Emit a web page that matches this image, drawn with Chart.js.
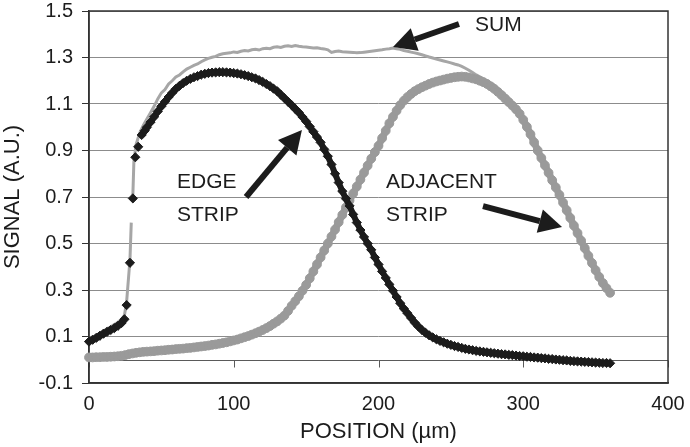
<!DOCTYPE html>
<html>
<head>
<meta charset="utf-8">
<script src="https://cdn.jsdelivr.net/npm/chart.js@4.4.0/dist/chart.umd.min.js"></script>
<style>
  html, body { margin: 0; padding: 0; background: #fff; }
</style>
</head>
<body>
<canvas id="signalChart" width="690" height="447"></canvas>
<script>
/* =====================
   データ: 位置 (µm) と信号 (A.U.)
===================== */
// common 2.5 µm grid (adjacent strip)
const positions = [
  0, 2.5, 5, 7.5, 10, 12.5, 15, 17.5, 20, 22.5,
  25, 27.5, 30, 32.5, 35, 37.5, 40, 42.5, 45, 47.5,
  50, 52.5, 55, 57.5, 60, 62.5, 65, 67.5, 70, 72.5,
  75, 77.5, 80, 82.5, 85, 87.5, 90, 92.5, 95, 97.5,
  100, 102.5, 105, 107.5, 110, 112.5, 115, 117.5, 120, 122.5,
  125, 127.5, 130, 132.5, 135, 137.5, 140, 142.5, 145, 147.5,
  150, 152.5, 155, 157.5, 160, 162.5, 165, 167.5, 170, 172.5,
  175, 177.5, 180, 182.5, 185, 187.5, 190, 192.5, 195, 197.5,
  200, 202.5, 205, 207.5, 210, 212.5, 215, 217.5, 220, 222.5,
  225, 227.5, 230, 232.5, 235, 237.5, 240, 242.5, 245, 247.5,
  250, 252.5, 255, 257.5, 260, 262.5, 265, 267.5, 270, 272.5,
  275, 277.5, 280, 282.5, 285, 287.5, 290, 292.5, 295, 297.5,
  300, 302.5, 305, 307.5, 310, 312.5, 315, 317.5, 320, 322.5,
  325, 327.5, 330, 332.5, 335, 337.5, 340, 342.5, 345, 347.5,
  350, 352.5, 355, 357.5, 360
];

const adjacentSignal = [
  0.010, 0.010, 0.011, 0.011, 0.012, 0.012, 0.013, 0.014, 0.015, 0.017,
  0.020, 0.024, 0.027, 0.030, 0.032, 0.034, 0.035, 0.036, 0.037, 0.039,
  0.040, 0.041, 0.043, 0.044, 0.046, 0.047, 0.048, 0.050, 0.051, 0.053,
  0.055, 0.057, 0.059, 0.061, 0.064, 0.066, 0.069, 0.072, 0.075, 0.079,
  0.083, 0.087, 0.092, 0.097, 0.102, 0.108, 0.114, 0.121, 0.128, 0.136,
  0.145, 0.155, 0.165, 0.177, 0.190, 0.210, 0.232, 0.252, 0.273, 0.297,
  0.322, 0.350, 0.380, 0.410, 0.440, 0.470, 0.500, 0.530, 0.560, 0.592,
  0.623, 0.655, 0.685, 0.715, 0.745, 0.775, 0.805, 0.835, 0.865, 0.893,
  0.920, 0.953, 0.985, 1.017, 1.045, 1.071, 1.095, 1.114, 1.130, 1.143,
  1.155, 1.164, 1.172, 1.179, 1.186, 1.192, 1.197, 1.201, 1.205, 1.209,
  1.212, 1.215, 1.217, 1.218, 1.217, 1.214, 1.210, 1.206, 1.200, 1.194,
  1.186, 1.176, 1.165, 1.152, 1.138, 1.123, 1.108, 1.093, 1.077, 1.058,
  1.032, 1.002, 0.970, 0.935, 0.900, 0.868, 0.836, 0.804, 0.772, 0.741,
  0.709, 0.676, 0.643, 0.610, 0.577, 0.545, 0.512, 0.480, 0.447, 0.416,
  0.385, 0.356, 0.330, 0.308, 0.288
];

// edge strip: same grid, but sparse points on the steep rise near 25-38 µm
const edgePos = [
  0, 2.5, 5, 7.5, 10, 12.5, 15, 17.5, 20, 22.5,
  24.5, 26, 28.3, 30.3, 32, 34, 36.4, 38.5,
  40, 42.5, 45, 47.5,
  50, 52.5, 55, 57.5, 60, 62.5, 65, 67.5, 70, 72.5,
  75, 77.5, 80, 82.5, 85, 87.5, 90, 92.5, 95, 97.5,
  100, 102.5, 105, 107.5, 110, 112.5, 115, 117.5, 120, 122.5,
  125, 127.5, 130, 132.5, 135, 137.5, 140, 142.5, 145, 147.5,
  150, 152.5, 155, 157.5, 160, 162.5, 165, 167.5, 170, 172.5,
  175, 177.5, 180, 182.5, 185, 187.5, 190, 192.5, 195, 197.5,
  200, 202.5, 205, 207.5, 210, 212.5, 215, 217.5, 220, 222.5,
  225, 227.5, 230, 232.5, 235, 237.5, 240, 242.5, 245, 247.5,
  250, 252.5, 255, 257.5, 260, 262.5, 265, 267.5, 270, 272.5,
  275, 277.5, 280, 282.5, 285, 287.5, 290, 292.5, 295, 297.5,
  300, 302.5, 305, 307.5, 310, 312.5, 315, 317.5, 320, 322.5,
  325, 327.5, 330, 332.5, 335, 337.5, 340, 342.5, 345, 347.5,
  350, 352.5, 355, 357.5, 360
];

const edgeSignal = [
  0.078, 0.086, 0.094, 0.103, 0.112, 0.120, 0.128, 0.136, 0.146, 0.158,
  0.174, 0.235, 0.417, 0.694, 0.871, 0.916, 0.967, 0.985,
  1.000, 1.022, 1.045, 1.068,
  1.090, 1.110, 1.130, 1.148, 1.165, 1.178, 1.190, 1.200, 1.208, 1.215,
  1.220, 1.226, 1.230, 1.233, 1.235, 1.236, 1.237, 1.237, 1.236, 1.235,
  1.233, 1.231, 1.228, 1.224, 1.220, 1.215, 1.210, 1.203, 1.195, 1.186,
  1.177, 1.166, 1.155, 1.140, 1.125, 1.110, 1.095, 1.079, 1.063, 1.044,
  1.025, 1.003, 0.981, 0.958, 0.935, 0.905, 0.875, 0.840, 0.800, 0.762,
  0.725, 0.693, 0.662, 0.625, 0.590, 0.558, 0.528, 0.500, 0.473, 0.440,
  0.410, 0.380, 0.352, 0.324, 0.297, 0.270, 0.243, 0.220, 0.200, 0.180,
  0.160, 0.143, 0.128, 0.116, 0.105, 0.096, 0.088, 0.081, 0.075, 0.069,
  0.064, 0.059, 0.055, 0.051, 0.047, 0.044, 0.041, 0.038, 0.036, 0.034,
  0.032, 0.030, 0.028, 0.026, 0.024, 0.023, 0.021, 0.020, 0.018, 0.016,
  0.015, 0.013, 0.012, 0.010, 0.009, 0.007, 0.006, 0.004, 0.003, 0.001,
  0.000, -0.002, -0.003, -0.005, -0.006, -0.007, -0.008, -0.009, -0.010, -0.011,
  -0.012, -0.013, -0.014, -0.014, -0.015
];

// sum: thin line, one gap on the steep rise
const sumPos = [
  0, 5, 10, 15, 20, 22.5, 24.5, 26, 28.3, 29.2, 29.6, 30.3, 31, 32.5, 35, 37.5,
  40, 42.5, 45, 47.5,
  50, 52.5, 55, 57.5, 60, 62.5, 65, 67.5, 70, 72.5,
  75, 77.5, 80, 82.5, 85, 87.5, 90, 92.5, 95, 97.5,
  100, 102.5, 105, 107.5, 110, 112.5, 115, 117.5, 120, 122.5,
  125, 127.5, 130, 132.5, 135, 137.5, 140, 142.5, 145, 147.5,
  150, 152.5, 155, 157.5, 160, 162.5, 165, 167.5, 170, 172.5,
  175, 177.5, 180, 182.5, 185, 187.5, 190, 192.5, 195, 197.5,
  200, 202.5, 205, 207.5, 210, 212.5, 215, 217.5, 220, 222.5,
  225, 227.5, 230, 232.5, 235, 237.5, 240, 242.5, 245, 247.5,
  250, 252.5, 255, 257.5, 260, 262.5, 265, 267.5, 270, 272.5,
  275, 277.5, 280, 285, 290, 295, 300, 305, 310, 315,
  320, 325, 330, 335, 340, 345, 350, 355, 360
];

const sumSignal = [
  0.088, 0.105, 0.125, 0.142, 0.161, 0.175, 0.192, 0.250, 0.430, 0.590, null, 0.710, 0.850, 0.925, 0.975, 1.008,
  1.035, 1.062, 1.090, 1.122,
  1.148, 1.162, 1.186, 1.200, 1.216, 1.225, 1.238, 1.250, 1.258, 1.266,
  1.272, 1.282, 1.290, 1.296, 1.301, 1.305, 1.312, 1.316, 1.318, 1.320,
  1.324, 1.322, 1.327, 1.330, 1.328, 1.333, 1.335, 1.332, 1.338, 1.340,
  1.338, 1.344, 1.346, 1.343, 1.348, 1.350, 1.347, 1.351, 1.348, 1.346,
  1.345, 1.343, 1.341, 1.342, 1.339, 1.337, 1.333, 1.322, 1.326, 1.328,
  1.325, 1.324, 1.323, 1.322, 1.320, 1.321, 1.323, 1.325, 1.327, 1.329,
  1.331, 1.333, 1.336, 1.338, 1.341, 1.337, 1.335, 1.330, 1.327, 1.323,
  1.320, 1.316, 1.312, 1.307, 1.302, 1.298, 1.293, 1.289, 1.285, 1.281,
  1.277, 1.272, 1.268, 1.262, 1.254, 1.245, 1.235, 1.225, 1.217, 1.208,
  1.200, 1.190, 1.180, 1.153, 1.125, 1.092, 1.046, 0.982, 0.909, 0.842,
  0.775, 0.709, 0.640, 0.571, 0.504, 0.437, 0.373, 0.316, 0.273
];

const xTicks = [0, 100, 200, 300, 400];
const yTicks = [-0.1, 0.1, 0.3, 0.5, 0.7, 0.9, 1.1, 1.3, 1.5];

// 注記 (data units)
const noteText = ['SUM', 'EDGE', 'STRIP', 'ADJACENT', 'STRIP'];
const noteX = [266.7, 60.8, 60.8, 205.2, 205.2];
const noteY = [1.438, 0.762, 0.620, 0.765, 0.620];
const arrowFrom = [[255.6, 1.444], [108.5, 0.700], [272.2, 0.661]];
const arrowTo = [[210.0, 1.345], [147.1, 0.988], [326.8, 0.571]];

const FONT = "'Liberation Sans', Arial, Helvetica, sans-serif";
const INK = '#1c1c1c';
const GREY = '#9a9a9a';

function toPoints(xs, ys) {
    return xs.map((x, i) => ({ x: x, y: ys[i] }));
}

// no connecting stroke across the steep jumps of the edge strip
function edgeSegmentColor(ctx) {
    return Math.abs(ctx.p1.parsed.y - ctx.p0.parsed.y) > 0.043 ? 'rgba(0,0,0,0)' : INK;
}

// keep the plot area fixed (Excel-like frame)
function noOverhang(s) {
    s.paddingTop = 0;
    s.paddingBottom = 0;
    s.paddingLeft = 0;
    s.paddingRight = 0;
}

/* =====================
   プラグイン: 枠, y=0 軸, 注記
===================== */
const framePlugin = {
    id: 'frame',
    beforeDatasetsDraw(chart) {
        const { ctx, chartArea: a, scales: { x, y } } = chart;
        ctx.save();
        const y0 = Math.round(y.getPixelForValue(0)) + 0.5;
        ctx.strokeStyle = '#5a5a5a';
        ctx.lineWidth = 1;
        ctx.beginPath();
        ctx.moveTo(a.left, y0);
        ctx.lineTo(a.right, y0);
        xTicks.forEach(v => {
            const px = Math.round(x.getPixelForValue(v)) + 0.5;
            ctx.moveTo(px, y0);
            ctx.lineTo(px, y0 + 7);
        });
        ctx.stroke();
        ctx.strokeStyle = '#333';
        ctx.lineWidth = 1.5;
        ctx.strokeRect(a.left, a.top, a.right - a.left, a.bottom - a.top);
        ctx.restore();
    }
};

function drawArrow(ctx, x1, y1, x2, y2) {
    const ang = Math.atan2(y2 - y1, x2 - x1);
    const head = 23, half = 12;
    const bx = x2 - head * Math.cos(ang), by = y2 - head * Math.sin(ang);
    ctx.lineWidth = 6;
    ctx.beginPath();
    ctx.moveTo(x1, y1);
    ctx.lineTo(bx, by);
    ctx.stroke();
    ctx.beginPath();
    ctx.moveTo(x2, y2);
    ctx.lineTo(bx + half * Math.sin(ang), by - half * Math.cos(ang));
    ctx.lineTo(bx - half * Math.sin(ang), by + half * Math.cos(ang));
    ctx.closePath();
    ctx.fill();
}

const notesPlugin = {
    id: 'notes',
    afterDatasetsDraw(chart) {
        const { ctx, scales: { x, y } } = chart;
        ctx.save();
        ctx.fillStyle = INK;
        ctx.strokeStyle = INK;
        ctx.font = '21px ' + FONT;
        ctx.textAlign = 'left';
        ctx.textBaseline = 'middle';
        noteText.forEach((t, i) => {
            ctx.fillText(t, x.getPixelForValue(noteX[i]), y.getPixelForValue(noteY[i]));
        });
        arrowFrom.forEach((p, i) => {
            drawArrow(ctx,
                x.getPixelForValue(p[0]), y.getPixelForValue(p[1]),
                x.getPixelForValue(arrowTo[i][0]), y.getPixelForValue(arrowTo[i][1]));
        });
        ctx.restore();
    }
};

/* =====================
   Chart.js
===================== */
new Chart(document.getElementById('signalChart'), {
    type: 'line',
    data: {
        datasets: [
            {
                label: 'EDGE STRIP',
                data: toPoints(edgePos, edgeSignal),
                borderColor: INK,
                borderWidth: 6,
                segment: { borderColor: edgeSegmentColor },
                pointStyle: 'rectRot',
                pointRadius: 4.6,
                pointBorderWidth: 1,
                pointBackgroundColor: INK,
                pointBorderColor: INK,
                tension: 0,
                clip: false
            },
            {
                label: 'ADJACENT STRIP',
                data: toPoints(positions, adjacentSignal),
                borderColor: GREY,
                borderWidth: 7,
                pointStyle: 'circle',
                pointRadius: 4.4,
                pointBorderWidth: 1,
                pointBackgroundColor: GREY,
                pointBorderColor: GREY,
                tension: 0,
                clip: false
            },
            {
                label: 'SUM',
                data: toPoints(sumPos, sumSignal),
                borderColor: '#a6a6a6',
                borderWidth: 3,
                pointRadius: 0,
                tension: 0,
                spanGaps: false,
                fill: false
            }
        ]
    },
    plugins: [framePlugin, notesPlugin],
    options: {
        animation: false,
        responsive: false,
        events: [],
        layout: { padding: { top: 11, right: 22, left: 0, bottom: 0 } },
        plugins: { legend: { display: false }, tooltip: { enabled: false } },
        scales: {
            x: {
                type: 'linear',
                min: 0,
                max: 400,
                afterBuildTicks: s => { s.ticks = xTicks.map(v => ({ value: v })); },
                afterFit: s => { s.height = 64; noOverhang(s); },
                ticks: {
                    padding: 10,
                    color: INK,
                    font: { family: FONT, size: 20, lineHeight: 1.1 },
                    callback: v => String(v)
                },
                grid: { display: false, drawTicks: false },
                border: { display: true, color: '#333', width: 1.5 },
                title: {
                    display: true,
                    text: 'POSITION (µm)',
                    color: INK,
                    font: { family: FONT, size: 22 },
                    padding: { top: 0, bottom: 2 }
                }
            },
            y: {
                min: -0.1,
                max: 1.5,
                afterBuildTicks: s => { s.ticks = yTicks.map(v => ({ value: v })); },
                afterFit: s => { s.width = 89; noOverhang(s); },
                ticks: {
                    padding: 9,
                    color: INK,
                    font: { family: FONT, size: 20, lineHeight: 1.1 },
                    callback: v => Number(v).toFixed(1)
                },
                grid: { color: '#8c8c8c', lineWidth: 1, tickLength: 7, tickColor: '#333' },
                border: { display: true, color: '#333', width: 1.5 },
                title: {
                    display: true,
                    text: 'SIGNAL (A.U.)',
                    color: INK,
                    font: { family: FONT, size: 22 },
                    padding: { top: 0, bottom: 0 }
                }
            }
        }
    }
});
</script>
</body>
</html>
